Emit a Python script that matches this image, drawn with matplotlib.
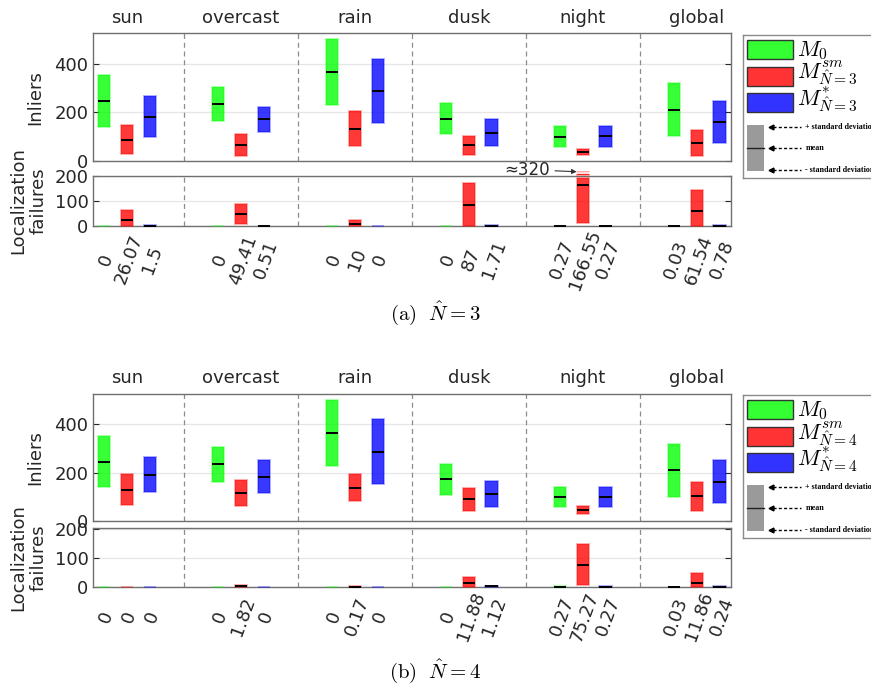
import numpy as np
import matplotlib
matplotlib.use("Agg")
import matplotlib.pyplot as plt
from matplotlib.patches import Rectangle
from matplotlib.transforms import blended_transform_factory

plt.rcParams['font.family'] = ['DejaVu Sans']
plt.rcParams['mathtext.fontset'] = 'cm'

# conditions and methods
conditions = ['sun', 'overcast', 'rain', 'dusk', 'night', 'global']
method_colors = [(0.0, 1.0, 0.0), (1.0, 0.0, 0.0), (0.0, 0.0, 1.0)]

# (a) N_hat = 3 : inliers (mean, std) per method
inl3_m0_mean = [247, 235, 366, 173.5, 100.5, 211]
inl3_m0_std = [106, 71, 137, 63.5, 41.5, 109]
inl3_sm_mean = [87, 67.5, 133.5, 64.5, 38, 74.5]
inl3_sm_std = [59, 45.5, 70.5, 38.5, 13, 53.5]
inl3_st_mean = [182.5, 171, 288.5, 117, 102, 160]
inl3_st_std = [85.5, 51, 132.5, 55, 43, 86]

# (a) N_hat = 3 : localization failures
fail3_m0_mean = [0, 0, 0, 0, 0.27, 0.03]
fail3_m0_std = [0, 0, 0, 0, 1, 0.3]
fail3_sm_mean = [26.07, 49.41, 10, 87, 166.55, 61.54]
fail3_sm_std = [38, 39, 17, 86, 154, 84]
fail3_st_mean = [1.5, 0.51, 0, 1.71, 0.27, 0.78]
fail3_st_std = [4, 2, 0, 4, 1, 3]

# (b) N_hat = 4 : inliers
inl4_m0_mean = [245.5, 234, 363.5, 173, 100, 209.5]
inl4_m0_std = [105.5, 71, 136.5, 63, 41, 108.5]
inl4_sm_mean = [131, 116.5, 138.5, 90.5, 45.5, 103]
inl4_sm_std = [65, 54.5, 54.5, 46.5, 16.5, 59]
inl4_st_mean = [191.5, 183.5, 285.5, 113.5, 99, 163.5]
inl4_st_std = [72.5, 68.5, 133.5, 53.5, 41, 89.5]

# (b) N_hat = 4 : localization failures
fail4_m0_mean = [0, 0, 0, 0, 0.27, 0.03]
fail4_m0_std = [0, 0, 0, 0, 1, 0.3]
fail4_sm_mean = [0, 1.82, 0.17, 11.88, 75.27, 11.86]
fail4_sm_std = [0, 4, 1, 22, 70, 34]
fail4_st_mean = [0, 0, 0, 1.12, 0.27, 0.24]
fail4_st_std = [0, 0, 0, 3, 1, 1]

W, H = 871, 684
TXT = '#262626'
FRAME = '#707070'
FS = 13
BW = 0.54

fig = plt.figure(figsize=(W / 100, H / 100), dpi=100)


def px_axes(x0, y0, x1, y1):
	return fig.add_axes([x0 / W, 1 - y1 / H, (x1 - x0) / W, (y1 - y0) / H])


def style_axes(ax, ymax, yticks):
	ax.set_xlim(0.5, 28.5)
	ax.set_ylim(0, ymax)
	ax.set_yticks(yticks)
	ax.tick_params(axis='y', direction='in', length=4, right=True, labelsize=FS,
		colors=TXT, labelcolor=TXT, pad=3)
	ax.yaxis.grid(True, color='#e6e6e6', lw=0.9)
	ax.set_axisbelow(True)
	for s in ax.spines.values():
		s.set_color(FRAME)
		s.set_linewidth(1.0)
	for i in range(len(conditions) - 1):
		ax.axvline(5 * i + 4.5, color='#8c8c8c', lw=0.9, ls=(0, (4, 3)), zorder=1)


def draw_bars(ax, means, stds, clip_zero=False, ymax=None):
	arrows = []
	for j, (m, s) in enumerate(zip(means, stds)):
		m = np.asarray(m, dtype=float)
		s = np.asarray(s, dtype=float)
		x = np.arange(len(conditions)) * 5 + j + 1
		lo = m - s
		hi = m + s
		if clip_zero:
			lo = np.maximum(lo, 0)
		if ymax is None:
			over = np.zeros(len(m), bool)
			hi_draw = hi
		else:
			over = hi > ymax
			hi_draw = np.where(over, ymax - 8, hi)
		c = method_colors[j]
		ax.bar(x, hi_draw - lo, bottom=lo, width=BW, color=c + (0.78,),
			edgecolor=c + (0.35,), lw=1.3, zorder=3, clip_on=not clip_zero)
		keep = m > 0
		ax.hlines(m[keep], x[keep] - BW / 2, x[keep] + BW / 2, colors='k', lw=1.4, zorder=4,
			clip_on=False)
		for k in np.where(over)[0]:
			# broken bar: small stub above the frame
			ax.bar(x[k], 14.5, bottom=ymax + 1.5, width=BW, color=c + (0.78,),
				edgecolor=c + (0.35,), lw=1.3, zorder=3, clip_on=False)
			ax.hlines(ymax + 9, x[k] - BW / 2 - 0.05, x[k] + BW / 2 + 0.05, colors='white',
				lw=1.2, zorder=5, clip_on=False)
			arrows.append((x[k] - BW / 2, ymax + 16, hi[k]))
	return arrows


def draw_legend(y_top, nhat):
	lh = 143
	lax = px_axes(743.3, y_top, 900.3, y_top + lh)
	lax.set_xlim(0, 157)
	lax.set_ylim(lh, 0)
	lax.set_xticks([])
	lax.set_yticks([])
	for s in lax.spines.values():
		s.set_color('#8a8a8a')
		s.set_linewidth(1.0)
	labels = [r'$M_0$', r'$M^{sm}_{\hat{N}=%d}$' % nhat, r'$M^{*}_{\hat{N}=%d}$' % nhat]
	sw_tops = [5, 31.5, 58]
	baselines = [21, 44.5, 71]
	for c, lab, t, b in zip(method_colors, labels, sw_tops, baselines):
		lax.add_patch(Rectangle((4, t), 46, 19, facecolor=c + (0.8,), edgecolor='#333333', lw=1.0))
		lax.text(54, b, lab, fontsize=16, va='baseline', ha='left', color='k')
	lax.add_patch(Rectangle((4, 89.5), 16.7, 46, facecolor='#9a9a9a', edgecolor='none'))
	lax.plot([4, 20.7], [112.5, 112.5], color='#222222', lw=1.0)
	for yy, t in zip([92, 112.5, 134.5], ['+ standard deviation', 'mean', '- standard deviation']):
		lax.plot([30, 58], [yy, yy], color='k', lw=1.0, ls=(0, (2.2, 1.6)))
		lax.plot(28, yy, marker='<', ms=3.5, color='k', mec='k')
		lax.text(62, yy, t, fontsize=5.8, family='Liberation Serif', va='center', ha='left',
			color='k', fontweight='bold')


def draw_figure(y0, inl_mean, inl_std, fail_mean, fail_std, nhat, letter, fail_top, xpad, cap_y):
	ax_in = px_axes(92.7, y0, 731, y0 + 127.7)
	ax_f = px_axes(92.7, fail_top, 731, y0 + 193)
	style_axes(ax_in, 525, [0, 200, 400])
	fail_ymax = 203
	style_axes(ax_f, fail_ymax, [0, 100, 200])
	ax_in.set_xticks([])
	draw_bars(ax_in, inl_mean, inl_std)
	arrows = draw_bars(ax_f, fail_mean, fail_std, clip_zero=True, ymax=fail_ymax)
	for xa, ya, top in arrows:
		ax_f.annotate('\u2248%d' % round(top, -1), xy=(xa, ya), xytext=(-36, 1.5),
			textcoords='offset points', ha='center', va='center', fontsize=FS - 1, color=TXT,
			arrowprops=dict(arrowstyle='-|>', color='#333333', lw=0.8, mutation_scale=7,
				shrinkA=2, shrinkB=0), annotation_clip=False)

	# condition titles above
	tr = blended_transform_factory(ax_in.transData, ax_in.transAxes)
	for i, name in enumerate(conditions):
		ax_in.annotate(name, xy=(5 * i + 2, 1), xycoords=tr, xytext=(0, 7.4),
			textcoords='offset points', ha='center', va='baseline', fontsize=FS, color=TXT)

	# rotated value labels
	pos = []
	labs = []
	for i in range(len(conditions)):
		for j in range(3):
			pos.append(5 * i + j + 1.1)
			labs.append('%g' % fail_mean[j][i])
	ax_f.set_xticks(pos)
	ax_f.set_xticklabels(labs, rotation=70, ha='center', va='center', fontsize=FS, color=TXT)
	ax_f.tick_params(axis='x', length=0, pad=xpad)

	fig.text(35.5 / W, 1 - (y0 + 63.8) / H, 'Inliers', rotation=90, ha='center', va='center',
		fontsize=FS, color=TXT)
	fy = (fail_top + y0 + 193) / 2
	fig.text(28.5 / W, 1 - fy / H, 'Localization\nfailures', rotation=90, ha='center',
		va='center', fontsize=FS, color=TXT, linespacing=1.15, multialignment='center')

	fig.text(0.5, 1 - cap_y / H, r'$\mathrm{(%s)}\ \ \hat{N}=%d$' % (letter, nhat), ha='center',
		va='center', fontsize=15, color='k')
	draw_legend(y0 + 1.7, nhat)


draw_figure(33.3, [inl3_m0_mean, inl3_sm_mean, inl3_st_mean],
	[inl3_m0_std, inl3_sm_std, inl3_st_std],
	[fail3_m0_mean, fail3_sm_mean, fail3_st_mean],
	[fail3_m0_std, fail3_sm_std, fail3_st_std], 3, 'a', 175.7, 24, 313)
draw_figure(393.7, [inl4_m0_mean, inl4_sm_mean, inl4_st_mean],
	[inl4_m0_std, inl4_sm_std, inl4_st_std],
	[fail4_m0_mean, fail4_sm_mean, fail4_st_mean],
	[fail4_m0_std, fail4_sm_std, fail4_st_std], 4, 'b', 527.7, 21.5, 671.5)

fig.savefig('out.png', dpi=100)
